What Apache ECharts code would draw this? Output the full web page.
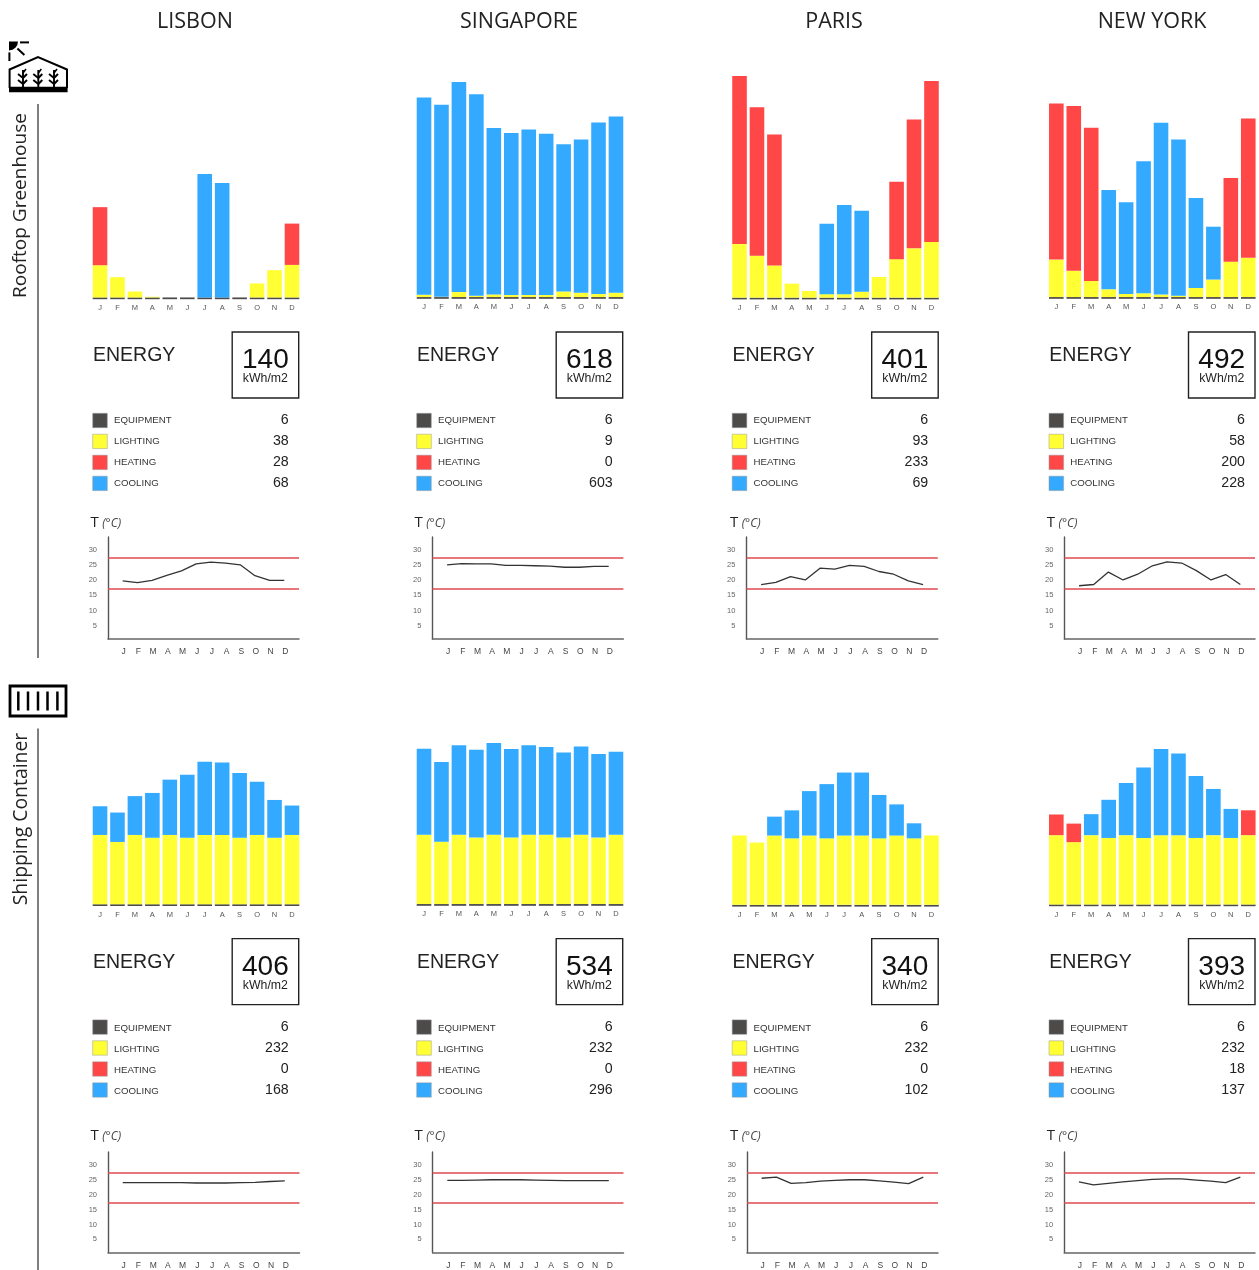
<!DOCTYPE html>
<html>
<head>
<meta charset="utf-8">
<style>html,body{margin:0;padding:0;background:#fff}#c{width:1259px;height:1270px}</style>
<script src="https://cdn.jsdelivr.net/npm/echarts@6/dist/echarts.min.js"></script>
</head>
<body>
<div id="c"></div>
<script>
// ---------- DATA (kWh/m2 per month, °C) ----------
const months = ['J','F','M','A','M','J','J','A','S','O','N','D'];
const cities = ['LISBON','SINGAPORE','PARIS','NEW YORK'];
const typologies = ['Rooftop Greenhouse','Shipping Container'];
const legendNames = ['EQUIPMENT','LIGHTING','HEATING','COOLING'];
const tempTicks = [5,10,15,20,25,30];
const comfortBand = [27.5,17.2];
const equipmentMonthly = [.5,.5,.5,.5,.5,.5,.5,.5,.5,.5,.5,.5];

const roofLisbonLighting = [9.2,5.8,1.7,0.2,0,0,0,0,0,4,7.8,9.3];
const roofLisbonHeating  = [16.6,0,0,0,0,0,0,0,0,0,0,11.8];
const roofLisbonCooling  = [0,0,0,0,0,0,35.3,32.7,0,0,0,0];
const roofLisbonTemp     = [19.8,19.2,20,21.6,23.1,25.4,26,25.7,25.1,21.5,20,20];

const roofSingaporeLighting = [.64,.07,1.41,.36,.73,.56,.56,.56,1.59,1.21,.84,1.21];
const roofSingaporeHeating  = [0,0,0,0,0,0,0,0,0,0,0,0];
const roofSingaporeCooling  = [56.4,54.9,60,57.6,47.6,46.3,47.3,46.1,42.1,43.8,49,50.4];
const roofSingaporeTemp     = [25.1,25.5,25.4,25.4,24.9,24.9,24.8,24.7,24.3,24.3,24.6,24.6];

const roofParisLighting = [15.3,12,9.2,4,1.9,1,1,1.7,5.9,11,14.1,15.9];
const roofParisHeating  = [48,42.4,37.4,0,0,0,0,0,0,22.1,36.8,46];
const roofParisCooling  = [0,0,0,0,0,20.1,25.5,23.1,0,0,0,0];
const roofParisTemp     = [18.6,19.3,21.2,20.1,24,23.7,24.9,24.6,22.9,22,19.8,18.6];

const roofNewYorkLighting = [10.7,7.5,4.6,2.2,.9,1.1,.7,.4,2.6,5,10.1,11.2];
const roofNewYorkHeating  = [44.6,47.1,43.8,0,0,0,0,0,0,0,23.9,39.8];
const roofNewYorkCooling  = [0,0,0,28.4,26.2,37.7,49.1,44.6,25.7,15.1,0,0];
const roofNewYorkTemp     = [18.2,18.6,22.7,20.1,22,24.8,26.1,25.7,23.2,20.1,21.9,18.6];

const boxLisbonLighting = [19.8,17.8,19.8,19,19.8,19,19.8,19.8,19,19.8,19,19.8];
const boxLisbonHeating  = [0,0,0,0,0,0,0,0,0,0,0,0];
const boxLisbonCooling  = [8.2,8.4,11.1,12.8,15.8,18,20.9,20.7,18.5,15.2,10.8,8.4];
const boxLisbonTemp     = [24,24,24,24,24,23.9,23.9,23.9,24,24.1,24.4,24.6];

const boxSingaporeLighting = [19.8,17.8,19.8,19,19.8,19,19.8,19.8,19,19.8,19,19.8];
const boxSingaporeHeating  = [0,0,0,0,0,0,0,0,0,0,0,0];
const boxSingaporeCooling  = [24.6,22.8,25.6,25.1,26.2,25.3,25.6,25.1,24.3,25.2,23.9,23.7];
const boxSingaporeTemp     = [24.8,24.8,24.9,25,25,25,24.9,24.8,24.7,24.7,24.7,24.7];

const boxParisLighting = [19.8,17.8,19.8,19,19.8,19,19.8,19.8,19,19.8,19,19.8];
const boxParisHeating  = [0,0,0,0,0,0,0,0,0,0,0,0];
const boxParisCooling  = [0,0,5.4,8,12.7,15.5,18,18,12.4,8.9,4.3,0];
const boxParisTemp     = [25.5,25.9,23.8,24,24.5,24.8,25,25,24.6,24.2,23.7,25.9];

const boxNewYorkLighting = [19.8,17.8,19.8,19,19.8,19,19.8,19.8,19,19.8,19,19.8];
const boxNewYorkHeating  = [5.9,5.3,0,0,0,0,0,0,0,0,0,7.1];
const boxNewYorkCooling  = [0,0,6,10.9,14.9,20.1,24.6,23.3,17.7,13.2,8.3,0];
const boxNewYorkTemp     = [24.3,23.3,23.8,24.3,24.7,25.1,25.3,25.3,24.9,24.5,24,25.9];

const roofTotals = [140,618,401,492];
const roofEnergy = [[6,38,28,68],[6,9,0,603],[6,93,233,69],[6,58,200,228]];
const boxTotals  = [406,534,340,393];
const boxEnergy  = [[6,232,0,168],[6,232,0,296],[6,232,0,102],[6,232,18,137]];

const roofRow = [
  [roofLisbonLighting,roofLisbonHeating,roofLisbonCooling,roofLisbonTemp],
  [roofSingaporeLighting,roofSingaporeHeating,roofSingaporeCooling,roofSingaporeTemp],
  [roofParisLighting,roofParisHeating,roofParisCooling,roofParisTemp],
  [roofNewYorkLighting,roofNewYorkHeating,roofNewYorkCooling,roofNewYorkTemp]
];
const boxRow = [
  [boxLisbonLighting,boxLisbonHeating,boxLisbonCooling,boxLisbonTemp],
  [boxSingaporeLighting,boxSingaporeHeating,boxSingaporeCooling,boxSingaporeTemp],
  [boxParisLighting,boxParisHeating,boxParisCooling,boxParisTemp],
  [boxNewYorkLighting,boxNewYorkHeating,boxNewYorkCooling,boxNewYorkTemp]
];

// ---------- STYLE / LAYOUT ----------
const COL = {equip:'#4d4a4a', light:'#ffff33', heat:'#ff4747', cool:'#33aaff'};
const SANS = '"Liberation Sans", Arial, sans-serif';
const OPEN = '"Open Sans", sans-serif';
const colX = [92.7,416.7,732.2,1049];      // left edge of first bar in each column
const lineAxisX = [[108,432.4,746.4,1064.4],[108,432.6,747,1064.2]];
const lineRight = [[299,623.4,937.8,1255],[299.5,623.5,938,1255]];
const boxDy = [0,606.6];
const textDy = [0,607.5];
const barBase = [[299.2,298.8,299.4,298.8],[906,905.8,906.6,906.2]];
const lineTop = [537,1152];
const lineBottom = [639,1253.5];
const BAR_KWH_MAX = 70, PX_PER_KWH = 3.5, BAND = 17.45;

const grids=[], xAxes=[], yAxes=[], series=[], gfx=[];

function addPanel(r,c,dataset,stackId){
  const [lighting,heating,cooling,temp] = dataset;
  // --- stacked bars ---
  let g = grids.length;
  const base = barBase[r][c];
  const h = BAR_KWH_MAX*PX_PER_KWH;
  grids.push({left:colX[c]-1.4, top:base-h, width:BAND*12, height:h});
  xAxes.push({gridIndex:g,type:'category',data:months,
    axisLine:{show:false},axisTick:{show:false},
    axisLabel:{interval:0,fontSize:7.5,fontFamily:SANS,color:'#555',margin:4.5}});
  yAxes.push({gridIndex:g,type:'value',min:0,max:BAR_KWH_MAX,show:false,splitLine:{show:false}});
  [['Equipment',equipmentMonthly,COL.equip],['Lighting',lighting,COL.light],
   ['Heating',heating,COL.heat],['Cooling',cooling,COL.cool]].forEach(([name,data,color])=>{
    series.push({type:'bar',name,stack:stackId,xAxisIndex:g,yAxisIndex:g,data,
      barWidth:14.6,itemStyle:{color},silent:true});
  });
  // --- temperature line ---
  g = grids.length;
  const left=lineAxisX[r][c], right=lineRight[r][c];
  grids.push({left,top:lineTop[r],width:right-left,height:lineBottom[r]-lineTop[r]});
  xAxes.push({gridIndex:g,type:'category',boundaryGap:false,data:['',...months,''],
    axisLine:{show:true,onZero:false,lineStyle:{color:'#666',width:1.5}},axisTick:{show:false},
    axisLabel:{interval:0,fontSize:8.5,fontFamily:SANS,color:'#444',margin:8.5,padding:[0,0,0,2]}});
  yAxes.push({gridIndex:g,type:'value',min:0.6,max:34.3,splitLine:{show:false},
    axisLine:{show:true,onZero:false,lineStyle:{color:'#555',width:1.4}},axisTick:{show:false},
    axisLabel:{customValues:tempTicks,fontSize:7.5,fontFamily:SANS,color:'#666',margin:11}});
  series.push({type:'line',name:'T',xAxisIndex:g,yAxisIndex:g,data:[null,...temp,null],
    showSymbol:false,silent:true,lineStyle:{color:'#333',width:1.3},
    markLine:{silent:true,symbol:'none',label:{show:false},animation:false,
      lineStyle:{color:'#e04a50',width:1.5,type:'solid'},
      data:comfortBand.map(v=>({yAxis:v}))}});
}

function txt(text,x,y,font,fill,align,extra){
  gfx.push(Object.assign({type:'text',x,y,silent:true,
    style:{text,font,fill:fill||'#222',align:align||'left',verticalAlign:'middle'}},extra||{}));
}
function rect(x,y,w,h,style){ gfx.push({type:'rect',silent:true,shape:{x,y,width:w,height:h},style}); }
function seg(x1,y1,x2,y2,stroke,lineWidth){
  gfx.push({type:'line',silent:true,shape:{x1,y1,x2,y2},style:{stroke:stroke||'#000',lineWidth:lineWidth||1}});
}

function addText(r,c,total,energy){
  const dy=textDy[r], bdy=boxDy[r], x0=colX[c];
  const boxL = x0+139.5;
  txt('ENERGY',x0+0.3,355.5+dy,'19.5px '+SANS,'#222');
  rect(boxL,332+bdy,66.5,66,{fill:'#fff',stroke:'#222',lineWidth:1.4});
  txt(String(total),boxL+33.2,360+dy,'28px '+SANS,'#111','center');
  txt('kWh/m2',boxL+33.2,379+bdy,'12.3px '+SANS,'#222','center');
  const swatches=[COL.equip,COL.light,COL.heat,COL.cool];
  const rowY=[420.3,441.2,462.2,483.2];
  energy.forEach((v,i)=>{
    rect(x0,rowY[i]-7+boxDy[r],14.6,14.4,{fill:swatches[i],stroke:'#999',lineWidth:.5});
    txt(legendNames[i],x0+21.3,rowY[i]+.5+dy,'9.7px '+SANS,'#333');
    txt(String(v),x0+196,rowY[i]-.5+dy,'14.2px '+SANS,'#222','right');
  });
  const ty=[523,1136][r];
  txt('T',x0-2.2,ty,'15px '+OPEN,'#222');
  txt('(°C)',x0+9.5,ty+1,'italic 12px '+OPEN,'#444');
}

roofRow.forEach((d,c)=>{addPanel(0,c,d,'roof'+c);addText(0,c,roofTotals[c],roofEnergy[c]);});
boxRow.forEach((d,c)=>{addPanel(1,c,d,'box'+c);addText(1,c,boxTotals[c],boxEnergy[c]);});

// city headers
[195,519,834,1152].forEach((x,i)=>txt(cities[i],x,22,'21.5px '+OPEN,'#222','center'));

// typology labels and rules
txt(typologies[0],21,205.5,'19px '+OPEN,'#222','center',{rotation:Math.PI/2});
txt(typologies[1],21,819,'19.4px '+OPEN,'#222','center',{rotation:Math.PI/2});
seg(38,104,38,658,'#555',1.5);
seg(38,728.5,38,1270,'#555',1.5);

// greenhouse icon
gfx.push({type:'sector',silent:true,shape:{cx:9,cy:41.5,r:9,r0:0,startAngle:0,endAngle:Math.PI/2},style:{fill:'#000'}});
seg(20,42.4,29,42.4,'#000',2);
seg(17.4,48.4,24.4,55,'#000',2);
seg(9.4,52.4,9.4,61,'#000',2);
gfx.push({type:'polyline',silent:true,shape:{points:[[9.6,88],[9.6,69.5],[38,57],[67,69.5],[67,88]]},style:{stroke:'#000',lineWidth:2,fill:'none'}});
rect(9,86.7,58.6,5.6,{fill:'#000'});
[23,38.3,54].forEach(x=>{
  seg(x,70,x,87,'#000',1.9);
  seg(x,78,x-5,74,'#000',1.9); seg(x,78,x+4,74,'#000',1.9);
  seg(x,84,x-5,80,'#000',1.9); seg(x,84,x+4,80,'#000',1.9);
  seg(x,73,x+3,69,'#000',1.6);
});

// container icon
rect(10,686,56,30,{fill:'#fff',stroke:'#000',lineWidth:2.8});
[18.3,28,38,47.5,57.4].forEach(x=>seg(x,691.5,x,710.5,'#000',2.5));

const chart = echarts.init(document.getElementById('c'),null,{width:1259,height:1270,renderer:'canvas'});
chart.setOption({animation:false,backgroundColor:'#fff',grid:grids,xAxis:xAxes,yAxis:yAxes,series,
  graphic:{elements:gfx}});
</script>
</body>
</html>
